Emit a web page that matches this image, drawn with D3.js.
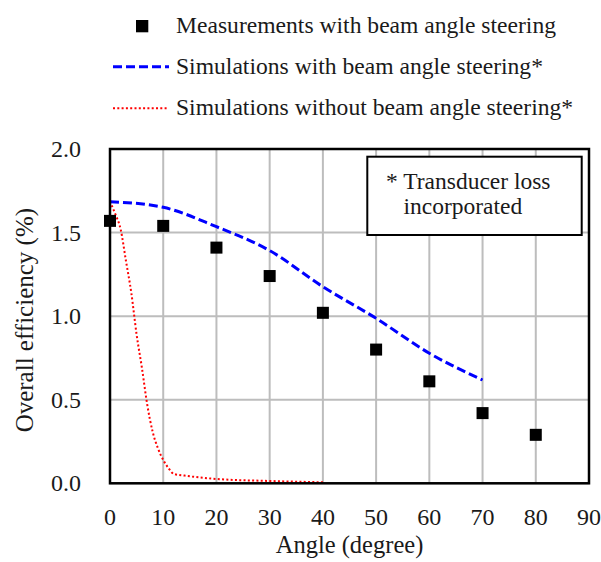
<!DOCTYPE html>
<html lang="en">
<head>
<meta charset="UTF-8">
<title>Overall efficiency vs angle</title>
<script src="https://d3js.org/d3.v7.min.js"></script>
<style>
  body { margin: 0; background: #fff; }
  svg text { font-family: "Liberation Serif", "Times New Roman", serif; fill: #1a1a1a; }
</style>
</head>
<body>
<svg width="601" height="562"></svg>
<script>
// measured points
const measAngle = [0, 10, 20, 30, 40, 50, 60, 70, 80];
const measEff   = [1.57, 1.54, 1.41, 1.24, 1.02, 0.80, 0.61, 0.42, 0.29];

// simulation with steering
const simAngle = [0, 10, 20, 30, 40, 50, 60, 70];
const simEff   = [1.685, 1.651, 1.535, 1.392, 1.176, 0.987, 0.778, 0.618];

// simulation without steering
const noSteerAngle = [0, 1, 2, 3, 4, 5, 6, 7, 8, 9, 10, 11, 12, 14, 20, 30, 40];
const noSteerEff   = [1.685, 1.61, 1.52, 1.33, 1.14, 0.89, 0.69, 0.47, 0.31, 0.21, 0.14, 0.09, 0.056, 0.046, 0.026, 0.014, 0.006];

const xTicks = [0, 10, 20, 30, 40, 50, 60, 70, 80, 90];
const yTicks = [0, 0.5, 1.0, 1.5, 2.0];

const legendLabels = [
  "Measurements with beam angle steering",
  "Simulations with beam angle steering*",
  "Simulations without beam angle steering*"
];

const svg = d3.select("svg");
const pL = 110, pR = 589, pT = 149, pB = 483.3;

const x = d3.scaleLinear().domain([0, 90]).range([pL, pR]);
const y = d3.scaleLinear().domain([0, 2]).range([pB, pT]);

// grid
const grid = svg.append("g");
grid.selectAll("line.gx")
  .data(xTicks).enter().append("line")
  .attr("class", "gx")
  .attr("x1", d => x(d)).attr("x2", d => x(d))
  .attr("y1", pT).attr("y2", pB)
  .style("stroke", "#bdbdbd").style("stroke-width", "2px");
grid.selectAll("line.gy")
  .data(yTicks).enter().append("line")
  .attr("class", "gy")
  .attr("x1", pL).attr("x2", pR)
  .attr("y1", d => y(d)).attr("y2", d => y(d))
  .style("stroke", "#bdbdbd").style("stroke-width", "2px");

// tick labels
svg.append("g").selectAll("text")
  .data(xTicks).enter().append("text")
  .attr("x", d => x(d))
  .attr("y", 525)
  .attr("text-anchor", "middle")
  .attr("font-size", 24)
  .text(d => d);

svg.append("g").selectAll("text")
  .data(yTicks).enter().append("text")
  .attr("x", 81)
  .attr("y", d => y(d) + 8)
  .attr("text-anchor", "end")
  .attr("font-size", 24)
  .text(d => d3.format(".1f")(d));

// axis titles
svg.append("text")
  .attr("x", (pL + pR) / 2)
  .attr("y", 553)
  .attr("text-anchor", "middle")
  .attr("font-size", 24.5)
  .text("Angle (degree)");

svg.append("text")
  .attr("transform", `translate(33,${(pT + pB) / 2 + 4}) rotate(-90)`)
  .attr("text-anchor", "middle")
  .attr("font-size", 25)
  .text("Overall efficiency (%)");

// lines
const lineGen = d3.line().x(d => x(d[0])).y(d => y(d[1])).curve(d3.curveMonotoneX);

svg.append("path")
  .datum(noSteerAngle.map((a, i) => [a, noSteerEff[i]]))
  .attr("d", lineGen)
  .attr("fill", "none")
  .attr("stroke", "#ff0000")
  .attr("stroke-width", 2)
  .attr("stroke-dasharray", "2,2.3");

svg.append("path")
  .datum(simAngle.map((a, i) => [a, simEff[i]]))
  .attr("d", lineGen)
  .attr("fill", "none")
  .attr("stroke", "#0000ff")
  .attr("stroke-width", 3)
  .attr("stroke-dasharray", "9,4");

// plot border
svg.append("rect")
  .attr("x", pL).attr("y", pT)
  .attr("width", pR - pL).attr("height", pB - pT)
  .attr("fill", "none")
  .attr("stroke", "#000")
  .attr("stroke-width", 2.5);

// measurement markers
const sq = 12;
svg.append("g").selectAll("rect")
  .data(measAngle.map((a, i) => [a, measEff[i]]))
  .enter().append("rect")
  .attr("x", d => x(d[0]) - sq / 2)
  .attr("y", d => y(d[1]) - sq / 2)
  .attr("width", sq).attr("height", sq)
  .attr("fill", "#000");

// note box
const note = svg.append("g");
note.append("rect")
  .attr("x", 367.3).attr("y", 156.7)
  .attr("width", 214.4).attr("height", 78.3)
  .attr("fill", "#fff")
  .attr("stroke", "#000")
  .attr("stroke-width", 2);
note.append("text").attr("x", 386).attr("y", 188.5).attr("font-size", 23.5).text("* Transducer loss");
note.append("text").attr("x", 403.5).attr("y", 213.5).attr("font-size", 23.5).text("incorporated");

// legend
const leg = svg.append("g");
leg.append("rect").attr("x", 136).attr("y", 20).attr("width", 12.3).attr("height", 12.3).attr("fill", "#000");
leg.append("line").attr("x1", 113).attr("x2", 169).attr("y1", 66.7).attr("y2", 66.7)
  .attr("stroke", "#0000ff").attr("stroke-width", 3).attr("stroke-dasharray", "9,4");
leg.append("line").attr("x1", 113).attr("x2", 168).attr("y1", 108.3).attr("y2", 108.3)
  .attr("stroke", "#ff0000").attr("stroke-width", 2).attr("stroke-dasharray", "2,2.3");
leg.selectAll("text.lg")
  .data(legendLabels).enter().append("text")
  .attr("class", "lg")
  .attr("x", 176)
  .attr("y", (d, i) => 33 + i * 41)
  .attr("font-size", 23.6)
  .text(d => d);
</script>
</body>
</html>
